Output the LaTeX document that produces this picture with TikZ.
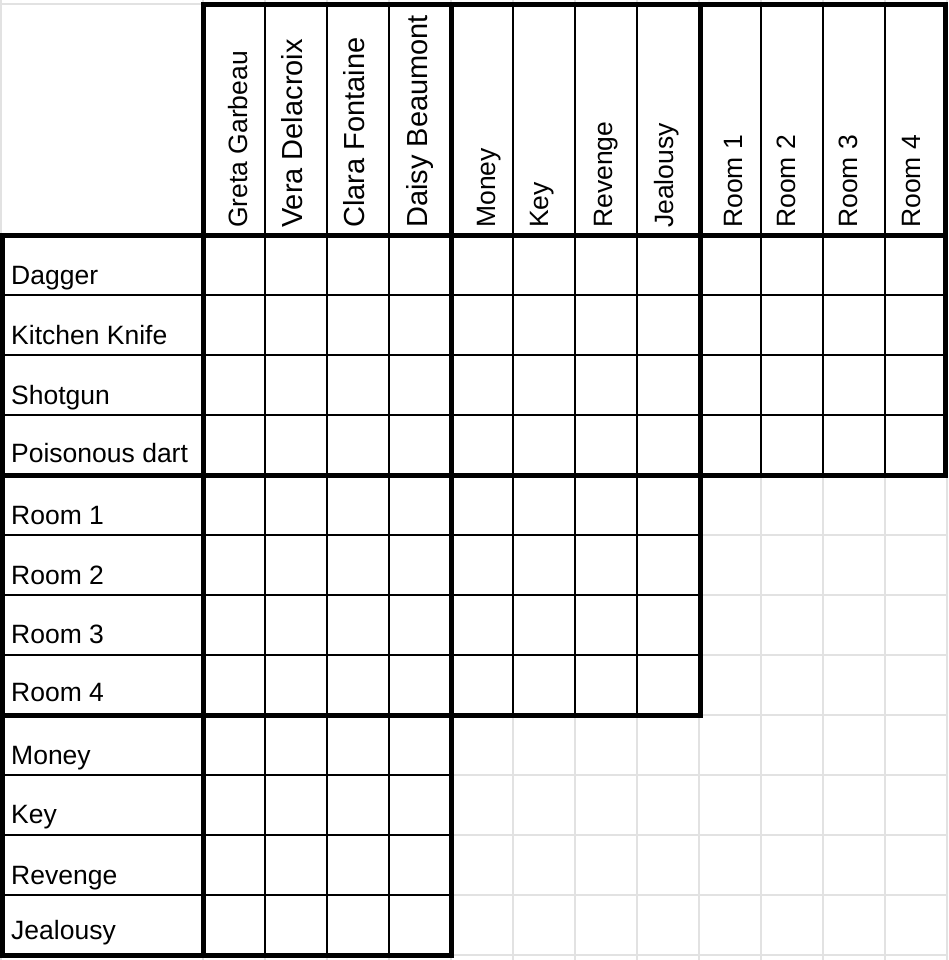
\documentclass[tikz,border=0pt]{standalone}
\usepackage{fontspec}
\setmainfont{Liberation Sans}
\definecolor{gridgray}{RGB}{226,226,226}
\begin{document}
\begin{tikzpicture}[x=1pt,y=-1pt,
    grid line/.style={draw=gridgray,line width=2pt},
    thin rule/.style={draw=black,line width=2pt},
    bold rule/.style={draw=black,line width=5pt},
    row label/.style={anchor=base west,inner sep=0pt,font=\fontsize{26.5}{30}\selectfont},
    col label/.style={rotate=90,anchor=base west,inner sep=0pt}]

    \useasboundingbox (0,0) rectangle (948,960);

    % sheet grid
    \foreach \x in {1,203,265,...,947}
        \draw[grid line] (\x,0) -- (\x,960);
    \foreach \y in {4,235,295,...,955}
        \draw[grid line] (0,\y) -- (948,\y);

    % thin cell lines
    \foreach \x in {265,327,...,885}
        \draw[thin rule] (\x,5) -- (\x,475);
    \foreach \x in {265,327,...,637}
        \draw[thin rule] (\x,475) -- (\x,715);
    \foreach \x in {265,327,389}
        \draw[thin rule] (\x,715) -- (\x,955);
    \foreach \y in {295,355,415}
        \draw[thin rule] (2,\y) -- (945,\y);
    \foreach \y in {535,595,655}
        \draw[thin rule] (2,\y) -- (700,\y);
    \foreach \y in {775,835,895}
        \draw[thin rule] (2,\y) -- (451,\y);

    % block borders
    \foreach \xa/\ya/\xb/\yb in {203/5/451/235, 451/5/700/235, 700/5/945/235,
        2/235/203/475, 203/235/451/475, 451/235/700/475, 700/235/945/475,
        2/475/203/715, 203/475/451/715, 451/475/700/715,
        2/715/203/955, 203/715/451/955}
        \draw[bold rule] (\xa,\ya) rectangle (\xb,\yb);

    % column heads
    \foreach \txt/\x/\s [count=\i] in {Greta Garbeau/247/26.5, Vera Delacroix/302/29,
        Clara Fontaine/364/29, Daisy Beaumont/427/29, Money/495/26.5, Key/548/26.5,
        Revenge/612/26.5, Jealousy/673/26.5, Room 1/742/26.5, Room 2/795/26.5,
        Room 3/857/26.5, Room 4/920/26.5}
        \node[col label,font=\fontsize{\s}{30}\selectfont] (c\i) at (\x,228) {\txt};

    % row heads
    \foreach \txt/\y [count=\i] in {Dagger/284, Kitchen Knife/344, Shotgun/404,
        Poisonous dart/462, Room 1/524, Room 2/584, Room 3/643, Room 4/701,
        Money/764, Key/823, Revenge/884, Jealousy/939}
        \node[row label] (r\i) at (11,\y) {\txt};
\end{tikzpicture}
\end{document}
